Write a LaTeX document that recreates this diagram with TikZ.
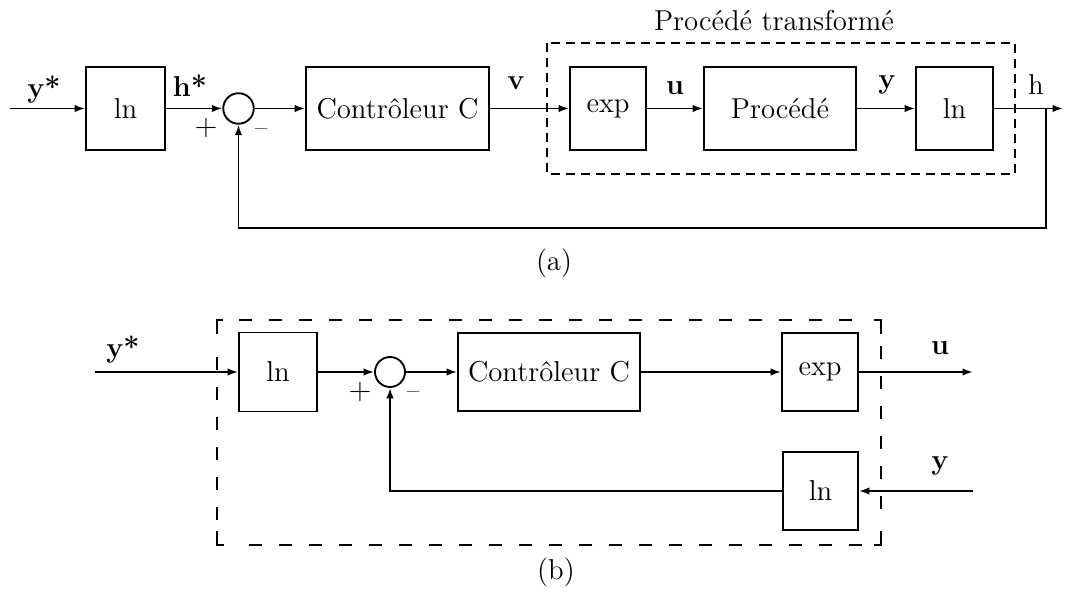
\documentclass[tikz,border=0pt]{standalone}
\usetikzlibrary{arrows.meta}
\begin{document}
\begin{tikzpicture}[x=0.4pt,y=-0.4pt,
  txt/.style={font=\fontsize{11.5}{14}\selectfont},
  blk/.style={draw, line width=0.75pt, inner sep=0pt, txt},
  sumnode/.style={draw, circle, line width=0.75pt, minimum size=12.2pt, inner sep=0pt},
  sig/.style={font=\fontsize{11.5}{14}\selectfont\bfseries, inner sep=0pt, anchor=base},
  plainsig/.style={font=\fontsize{11.5}{14}\selectfont, inner sep=0pt, anchor=base},
  sign/.style={inner sep=0pt, font=\fontsize{11.5}{14}\selectfont},
  minussign/.style={inner sep=0pt, font=\fontsize{10}{12}\selectfont},
  wire/.style={line width=0.75pt},
  flow/.style={wire, -{Latex[length=4.2pt,width=3pt]}},
  frameA/.style={line width=0.75pt, dash pattern=on 3.6pt off 2.4pt},
  frameB/.style={line width=0.75pt, dash pattern=on 5.2pt off 6.8pt},
]
\useasboundingbox (0,0) rectangle (1065,610);

% ---------- (a) loop around the transformed process ----------
\node[blk, minimum width=31.6pt, minimum height=33.2pt] (lnA) at (125.5,108.5) {ln};
\node[sumnode] (sumA) at (238.5,108.5) {};
\node[blk, minimum width=73.2pt, minimum height=33.2pt] (ctrlA) at (397.5,108.5) {Contrôleur C};
\node[blk, minimum width=30.4pt, minimum height=33.2pt] (expA) at (608,108.5) {exp};
\node[blk, minimum width=60.8pt, minimum height=33.2pt] (procA) at (780,108.5) {Procédé};
\node[blk, minimum width=30.8pt, minimum height=33.2pt] (lnA2) at (954.5,108.5) {ln};
\draw[frameA] (547,43) rectangle (1015,174);
\node[txt, inner sep=0pt] (titleA) at (774,21) {Procédé transformé};

\coordinate (inA) at (10,108.5);
\coordinate (outA) at (1063,108.5);
\coordinate (brA) at (1046,108.5);
\coordinate (fbA) at (238.5,228);

\draw[flow] (inA) -- (lnA);
\draw[flow] (lnA) -- (sumA);
\draw[flow] (sumA) -- (ctrlA);
\draw[flow] (ctrlA) -- (expA);
\draw[flow] (expA) -- (procA);
\draw[flow] (procA) -- (lnA2);
\draw[flow] (lnA2) -- (outA);
\draw[flow] (brA) |- (fbA) -- (sumA);

\node[sig] (ystarA) at (44,98) {y*};
\node[sig] (hstarA) at (190,97) {h*};
\node[sig] (vA) at (516,90) {v};
\node[sig] (uA) at (675,95) {u};
\node[sig] (yA) at (887,89) {y};
\node[plainsig] (hA) at (1036,95) {h};
\node[sign] (plusA) at (206,128.5) {$+$};
\node[minussign] (minusA) at (261,132) {\textendash};
\node[txt] (capA) at (554,263) {(a)};

% ---------- (b) equivalent controller ----------
\node[blk, minimum width=31.2pt, minimum height=31.6pt] (lnB) at (278,372) {ln};
\node[sumnode, minimum size=12pt] (sumB) at (390,372) {};
\node[blk, minimum width=72.8pt, minimum height=31.2pt] (ctrlB) at (549,372) {Contrôleur C};
\node[blk, minimum width=30.4pt, minimum height=31pt] (expB) at (820,372) {exp};
\node[blk, minimum width=30pt, minimum height=31.2pt] (lnB2) at (820.5,491) {ln};

\coordinate (inB) at (95,372);
\coordinate (outB) at (973,372);
\coordinate (yinB) at (973,491);
\coordinate (fbB) at (390,491);

\draw[flow] (inB) -- (lnB);
\draw[flow] (lnB) -- (sumB);
\draw[flow] (sumB) -- (ctrlB);
\draw[flow] (ctrlB) -- (expB);
\draw[flow] (expB) -- (outB);
\draw[flow] (yinB) -- (lnB2);
\draw[flow] (lnB2) -- (fbB) -- (sumB);

% dashed frame with solid corner marks
\draw[wire] (217,334) |- (223,320);
\draw[wire] (874,320) -| (881,334);
\draw[wire] (217,531) |- (224,545);
\draw[wire] (874,545) -| (881,531);
\draw[frameB] (239,320) -- (868,320);
\draw[frameB] (881,346) -- (881,525);
\draw[frameB] (862,545) -- (234,545);
\draw[frameB] (217,520) -- (217,346);

\node[sig] (ystarB) at (123,358) {y*};
\node[sig] (uB) at (940,355) {u};
\node[sig] (yB) at (940,470) {y};
\node[sign] (plusB) at (360,392) {$+$};
\node[minussign] (minusB) at (413,395) {\textendash};
\node[txt] (capB) at (556,572) {(b)};
\end{tikzpicture}
\end{document}
